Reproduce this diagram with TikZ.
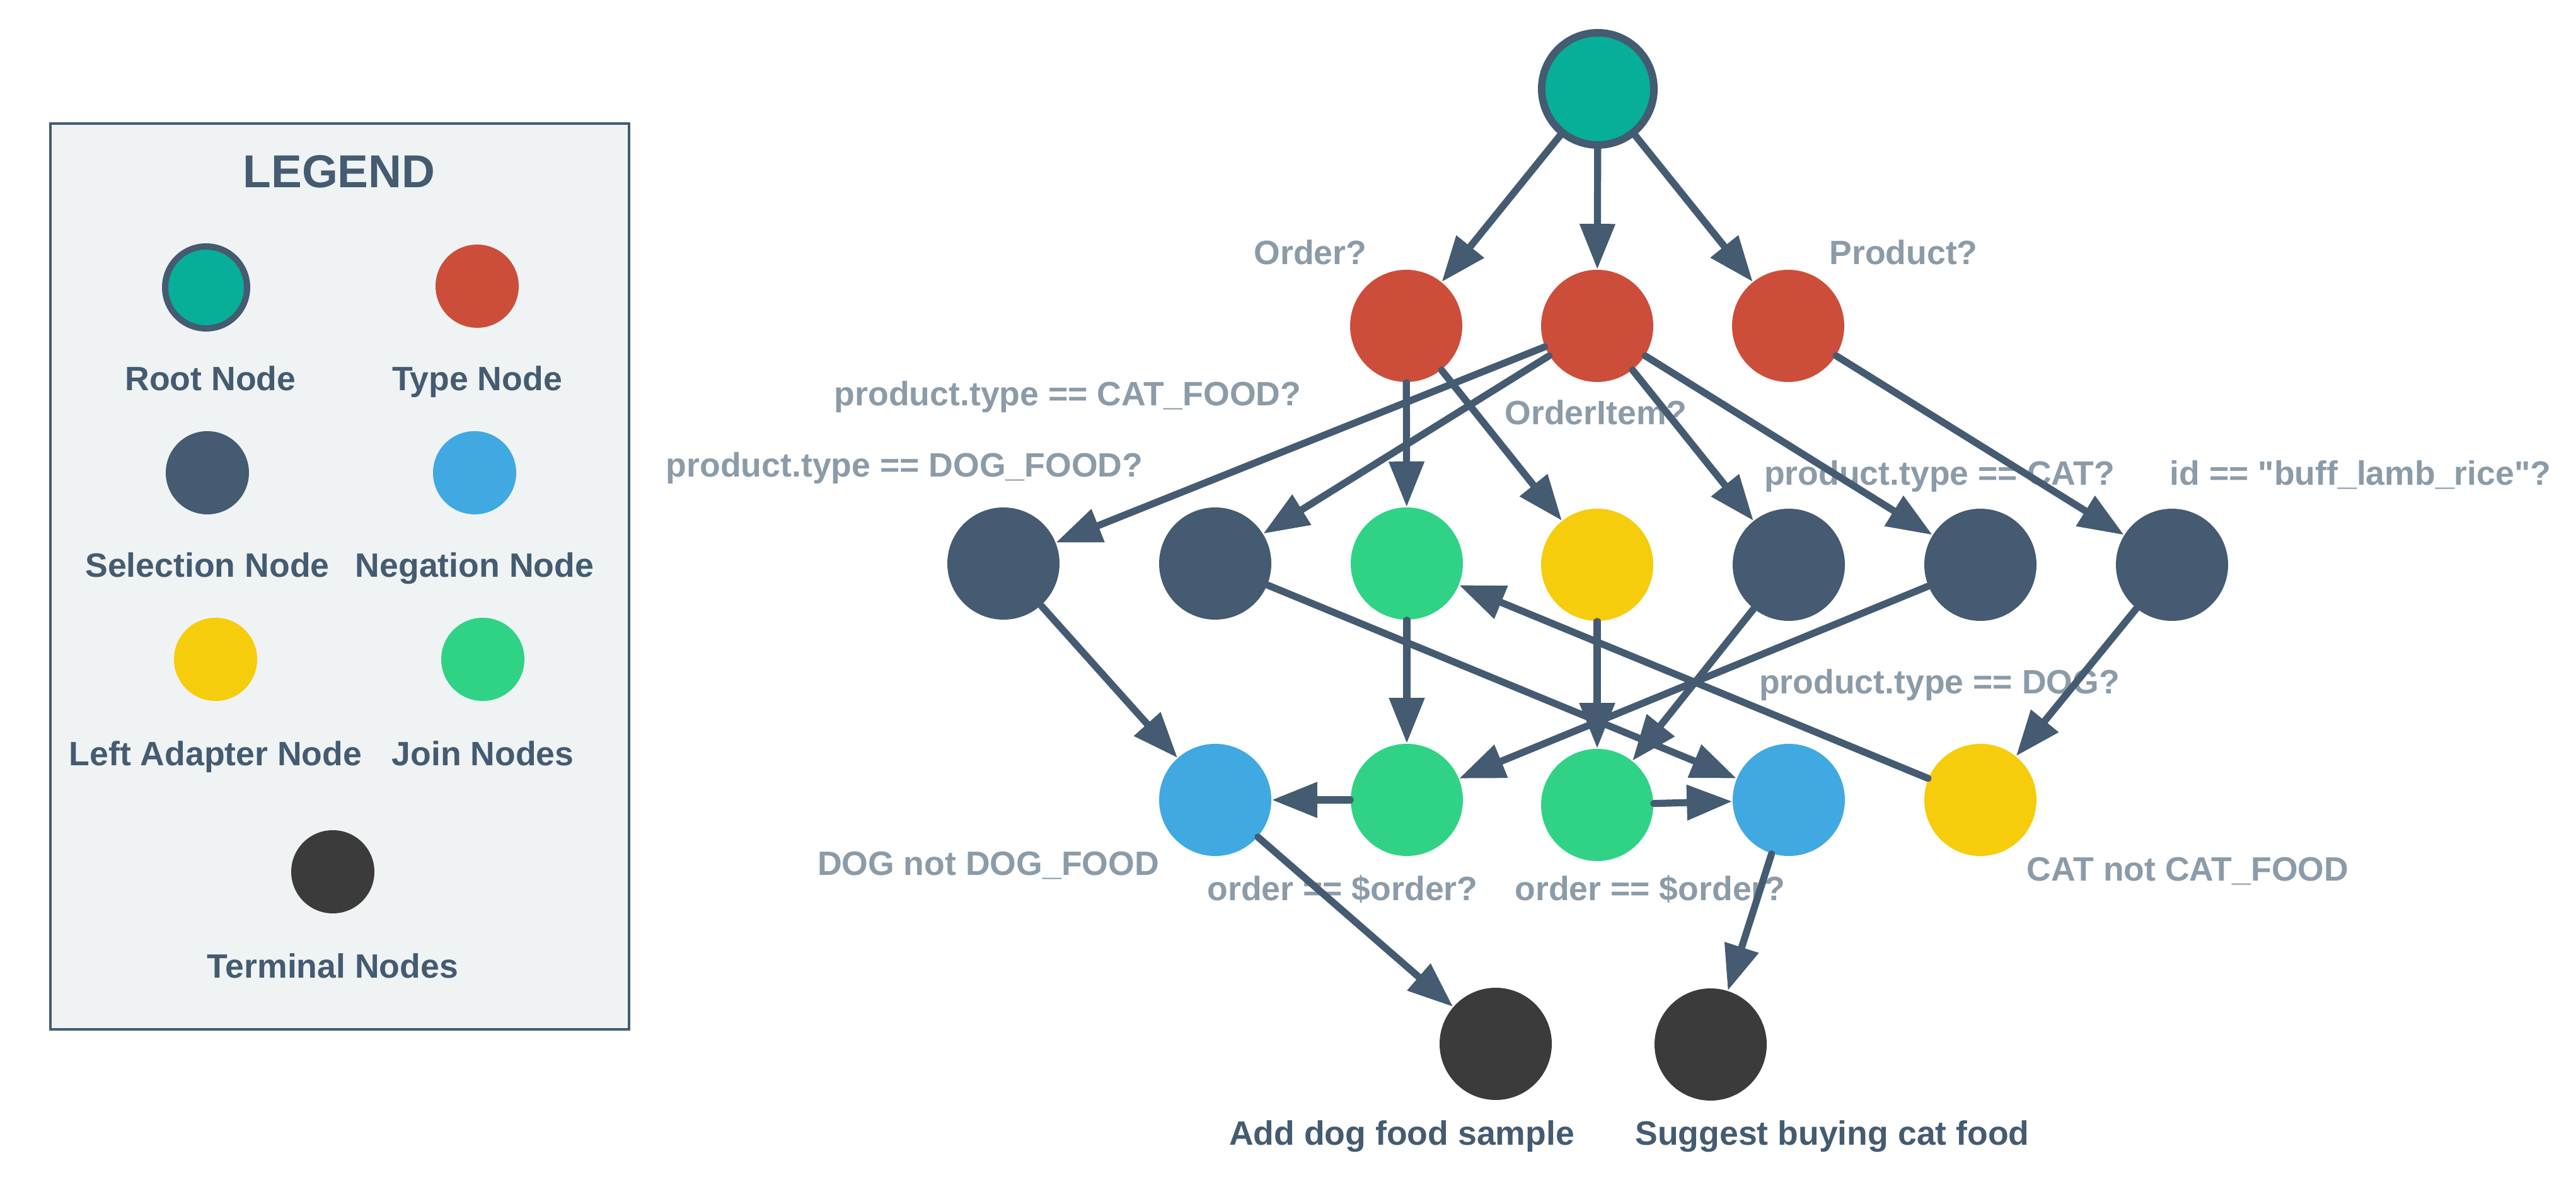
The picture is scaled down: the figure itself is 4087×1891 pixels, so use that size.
\documentclass[tikz,border=0pt]{standalone}
\usepackage{fontspec}
\setmainfont{Liberation Sans}
\usetikzlibrary{arrows.meta}
\definecolor{cSlate}{HTML}{445B71}
\definecolor{cRoot}{HTML}{07AF98}
\definecolor{cType}{HTML}{CC4E3A}
\definecolor{cJoin}{HTML}{30D385}
\definecolor{cNeg}{HTML}{40A9E1}
\definecolor{cAdapt}{HTML}{F5CD0C}
\definecolor{cTerm}{HTML}{3B3B3B}
\definecolor{cGrey}{HTML}{8B9BA8}
\definecolor{cLegBg}{HTML}{EFF3F4}
\begin{document}
\begin{tikzpicture}[x=0.25pt,y=-0.25pt,
  font=\fontsize{13.4}{16}\selectfont\bfseries,
  nd/.style={circle,inner sep=0pt,minimum size=44.5pt,draw=none},
  lnd/.style={circle,inner sep=0pt,minimum size=33pt,draw=none},
  rootnd/.style={nd,fill=cRoot,draw=cSlate,line width=3pt},
  lrootnd/.style={lnd,fill=cRoot,draw=cSlate,line width=2.5pt,minimum size=32.5pt},
  typend/.style={fill=cType},
  selnd/.style={fill=cSlate},
  joinnd/.style={fill=cJoin},
  negnd/.style={fill=cNeg},
  adnd/.style={fill=cAdapt},
  termnd/.style={fill=cTerm},
  glabel/.style={text=cGrey,inner sep=0pt,text height=0.72em,text depth=0pt,anchor=center},
  dlabel/.style={text=cSlate,inner sep=0pt,text height=0.72em,text depth=0pt,anchor=center},
  edge/.style={draw=cSlate,line width=2.8pt,line cap=round,-{Triangle[length=18pt,width=13.5pt]}}
]
\useasboundingbox (0,0) rectangle (4087,1891);
\fill[white] (0,0) rectangle (4087,1891);

% Legend
\draw[cSlate,line width=0.9pt,fill=cLegBg] (80,196) rectangle (998,1633);
\node[dlabel,font=\fontsize{18.3}{22}\selectfont\bfseries] (legtitle) at (538,283) {LEGEND};
\node[lrootnd] (lroot) at (327,456) {};
\node[lnd,typend] (ltype) at (757,454) {};
\node[lnd,selnd] (lsel) at (329,750) {};
\node[lnd,negnd] (lneg) at (753,750) {};
\node[lnd,adnd] (lad) at (342,1046) {};
\node[lnd,joinnd] (ljoin) at (766,1046) {};
\node[lnd,termnd] (lterm) at (528,1383) {};
\node[dlabel] (llroot) at (334,605) {Root Node};
\node[dlabel] (lltype) at (757,605) {Type Node};
\node[dlabel] (llsel) at (329,901) {Selection Node};
\node[dlabel] (llneg) at (753,901) {Negation Node};
\node[dlabel] (llad) at (342,1200) {Left Adapter Node};
\node[dlabel] (lljoin) at (766,1200) {Join Nodes};
\node[dlabel] (llterm) at (528,1537) {Terminal Nodes};

% Labels
\node[glabel] (lbOrder) at (2079,405) {Order?};
\node[glabel] (lbProd) at (3020,405) {Product?};
\node[glabel] (lbItem) at (2532,659) {OrderItem?};
\node[glabel] (lbCatF) at (1694,629) {product.type == CAT\_FOOD?};
\node[glabel] (lbDogF) at (1435,742) {product.type == DOG\_FOOD?};
\node[glabel] (lbCat) at (3077,755) {product.type == CAT?};
\node[glabel] (lbId) at (3745,755) {id == \textquotedbl buff\_lamb\_rice\textquotedbl ?};
\node[glabel] (lbDog) at (3077,1086) {product.type == DOG?};
\node[glabel] (lbDnD) at (1568,1374) {DOG not DOG\_FOOD};
\node[glabel] (lbCnC) at (3471,1383) {CAT not CAT\_FOOD};
\node[glabel] (lbOrd1) at (2130,1414) {order == \$order?};
\node[glabel] (lbOrd2) at (2618,1414) {order == \$order?};
\node[dlabel] (lbT1) at (2224,1802) {Add dog food sample};
\node[dlabel] (lbT2) at (2907,1802) {Suggest buying cat food};

% Nodes
\node[rootnd] (root) at (2535,141) {};
\node[nd,typend] (tOrder) at (2231,517) {};
\node[nd,typend] (tItem) at (2534,517) {};
\node[nd,typend] (tProd) at (2837,517) {};
\node[nd,selnd] (s1) at (1592,894) {};
\node[nd,selnd] (s2) at (1928,894) {};
\node[nd,joinnd] (j1) at (2232,894) {};
\node[nd,adnd] (a1) at (2534,896) {};
\node[nd,selnd] (s5) at (2838,896) {};
\node[nd,selnd] (s6) at (3142,896) {};
\node[nd,selnd] (s7) at (3446,896) {};
\node[nd,negnd] (n1) at (1928,1269) {};
\node[nd,joinnd] (j2) at (2232,1269) {};
\node[nd,joinnd] (j3) at (2534,1277) {};
\node[nd,negnd] (n2) at (2838,1269) {};
\node[nd,adnd] (a2) at (3142,1269) {};
\node[nd,termnd] (t1) at (2373,1656) {};
\node[nd,termnd] (t2) at (2714,1657) {};

% Edges
\draw[edge] (root) -- (tOrder);
\draw[edge] (root) -- (tItem);
\draw[edge] (root) -- (tProd);
\draw[edge] (tOrder) -- (j1);
\draw[edge] (tOrder) -- (a1);
\draw[edge] (tItem) -- (s1);
\draw[edge] (tItem) -- (s2);
\draw[edge] (tItem) -- (s5);
\draw[edge] (tItem) -- (s6);
\draw[edge] (tProd) -- (s7);
\draw[edge] (s1) -- (n1);
\draw[edge] (s2) -- (n2);
\draw[edge] (j1) -- (j2);
\draw[edge] (a1) -- (j3);
\draw[edge] (s5) -- (j3);
\draw[edge] (s6) -- (j2);
\draw[edge] (s7) -- (a2);
\draw[edge] (a2) -- (j1);
\draw[edge] (j2) -- (n1);
\draw[edge] (j3) -- (n2);
\draw[edge] (n1) -- (t1);
\draw[edge] (n2) -- (t2);
\end{tikzpicture}
\end{document}
